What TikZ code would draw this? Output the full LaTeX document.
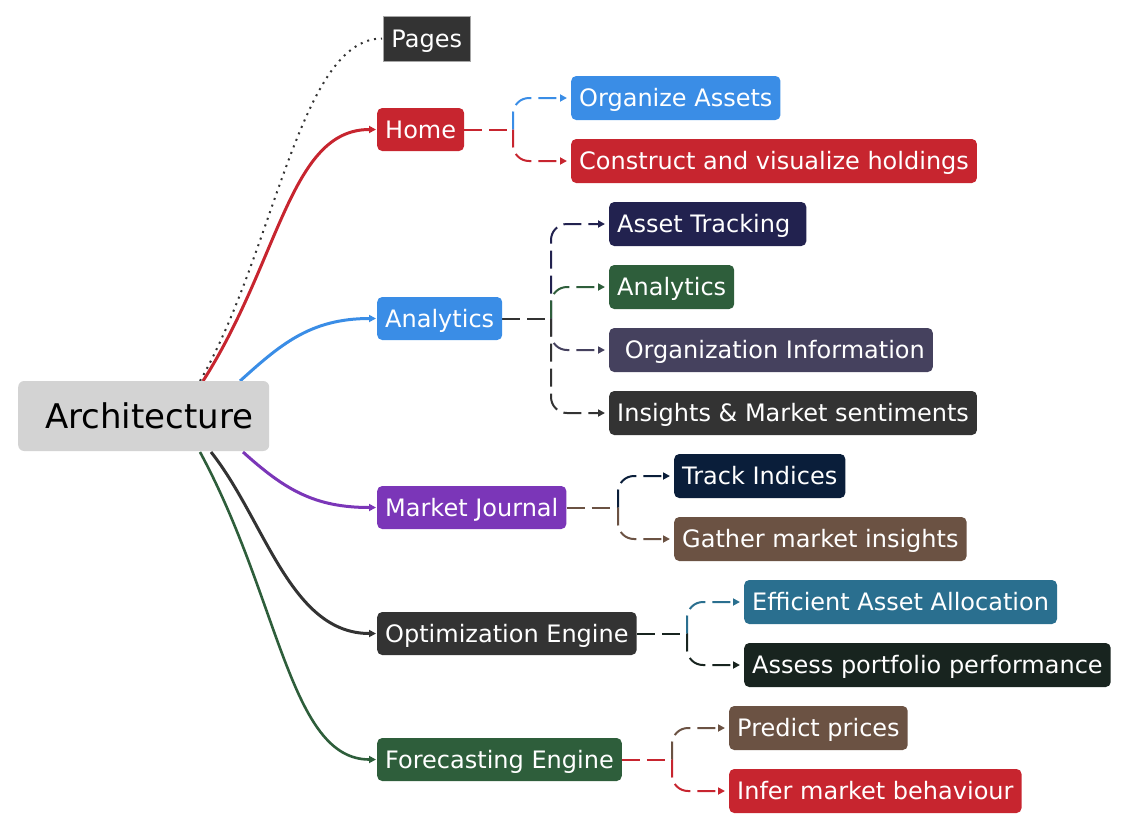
\documentclass[tikz,border=0pt]{standalone}
\usepackage{fontspec}
\setmainfont{DejaVu Sans}
\usetikzlibrary{arrows.meta,backgrounds}
\definecolor{cred}{HTML}{C7252F}
\definecolor{cblue}{HTML}{3A8DE6}
\definecolor{cpurple}{HTML}{7B36B8}
\definecolor{cdark}{HTML}{333333}
\definecolor{cgreen}{HTML}{2E5E3B}
\definecolor{cnavy}{HTML}{22224F}
\definecolor{corg}{HTML}{45415E}
\definecolor{ctrack}{HTML}{0A1E3A}
\definecolor{cbrown}{HTML}{6B5243}
\definecolor{cteal}{HTML}{2A6F8F}
\definecolor{cassess}{HTML}{18241F}
\definecolor{cgrey}{HTML}{D3D3D3}
\tikzset{
  box/.style={anchor=west, text=white, rounded corners=5pt, inner xsep=8pt, inner ysep=0pt,
    minimum height=44pt, text height=17.5pt, text depth=0pt, font=\fontsize{24}{28}\selectfont},
  lvl/.style={box, minimum height=43pt},
  main/.style={line width=3pt, -{Triangle[length=7pt,width=7pt]}, shorten >=1pt},
  sub/.style={line width=2pt, dash pattern=on 18pt off 7pt},
  subarrow/.style={sub, rounded corners=16pt, -{Triangle[length=7pt,width=7pt]}, shorten >=4pt},
}
\begin{document}
\begin{tikzpicture}[x=1pt,y=-1pt]
\useasboundingbox (0,0) rectangle (1132,833);
% root
\node[anchor=west, fill=cgrey, rounded corners=6pt, minimum height=70pt, minimum width=251pt,
  inner xsep=0pt, text height=24.8pt, text depth=0pt, font=\fontsize{34}{40}\selectfont] (arch) at (18,416) {\ Architecture};
% pages
\node[box, rounded corners=0pt, fill=cdark, draw=gray!70, line width=0.8pt, minimum height=45pt] (pages) at (383,38.5) {Pages};
% level 1
\node[lvl, fill=cred] (home) at (377,129.5) {Home};
\node[lvl, fill=cblue] (ana) at (377,318.5) {Analytics};
\node[lvl, fill=cpurple] (mj) at (377,507.5) {Market Journal};
\node[lvl, fill=cdark] (opt) at (377,633.5) {Optimization Engine};
\node[lvl, fill=cgreen] (fc) at (377,759.5) {Forecasting Engine};
% level 2
\node[box, fill=cblue] (oa) at (571,98) {Organize Assets};
\node[box, fill=cred] (cv) at (571,161) {Construct and visualize holdings};
\node[box, fill=cnavy] (at) at (609,224) {Asset Tracking\hspace*{8pt}};
\node[box, fill=cgreen] (an) at (609,287) {Analytics};
\node[box, fill=corg] (oi) at (609,350) {\ Organization Information};
\node[box, fill=cdark] (im) at (609,413) {Insights \& Market sentiments};
\node[box, fill=ctrack] (ti) at (674,476) {Track Indices};
\node[box, fill=cbrown] (gm) at (674,539) {Gather market insights};
\node[box, fill=cteal] (ea) at (744,602) {Efficient Asset Allocation};
\node[box, fill=cassess] (ap) at (744,665) {Assess portfolio performance};
\node[box, fill=cbrown] (pp) at (729,728) {Predict prices};
\node[box, fill=cred] (ib) at (729,791) {Infer market behaviour};
% branch points
\coordinate (bh) at (513,129.5);
\coordinate (ba) at (551,318.5);
\coordinate (bm) at (618,507.5);
\coordinate (bo) at (687,633.5);
\coordinate (bf) at (672,759.5);
\begin{pgfonlayer}{background}
% main connectors
\coordinate (s0) at (200,381);
\coordinate (s1) at (203,381);
\coordinate (s2) at (240,381);
\coordinate (s3) at (243,452);
\coordinate (s4) at (211,452);
\coordinate (s5) at (200,452);
\draw[cdark, line width=2pt, dash pattern=on 2pt off 5pt, shorten >=1pt] (s0) .. controls (275,250) and (300,38.5) .. (pages.west);
\draw[main, cred] (s1) .. controls (280,260) and (290,129.5) .. (home.west);
\draw[main, cblue] (s2) .. controls (280,345) and (310,318.5) .. (ana.west);
\draw[main, cpurple] (s3) .. controls (285,490) and (315,507.5) .. (mj.west);
\draw[main, cdark] (s4) .. controls (265,520) and (290,633.5) .. (opt.west);
\draw[main, cgreen, line width=2.6pt] (s5) .. controls (280,600) and (290,759.5) .. (fc.west);
% stems
\draw[sub, cred] (home.east) -- (bh);
\draw[sub, cdark] (ana.east) -- (ba);
\draw[sub, cbrown] (mj.east) -- (bm);
\draw[sub, cassess] (opt.east) -- (bo);
\draw[sub, cred] (fc.east) -- (bf);
% branches
\foreach \b/\c/\col in {bh/oa/cblue, bh/cv/cred,
  ba/at/cnavy, ba/an/cgreen, ba/oi/corg, ba/im/cdark,
  bm/ti/ctrack, bm/gm/cbrown, bo/ea/cteal, bo/ap/cassess,
  bf/pp/cbrown, bf/ib/cred}{
  \draw[subarrow, \col] (\b) -- (\b |- \c.west) -- (\c.west);
}
\end{pgfonlayer}
\end{tikzpicture}
\end{document}
